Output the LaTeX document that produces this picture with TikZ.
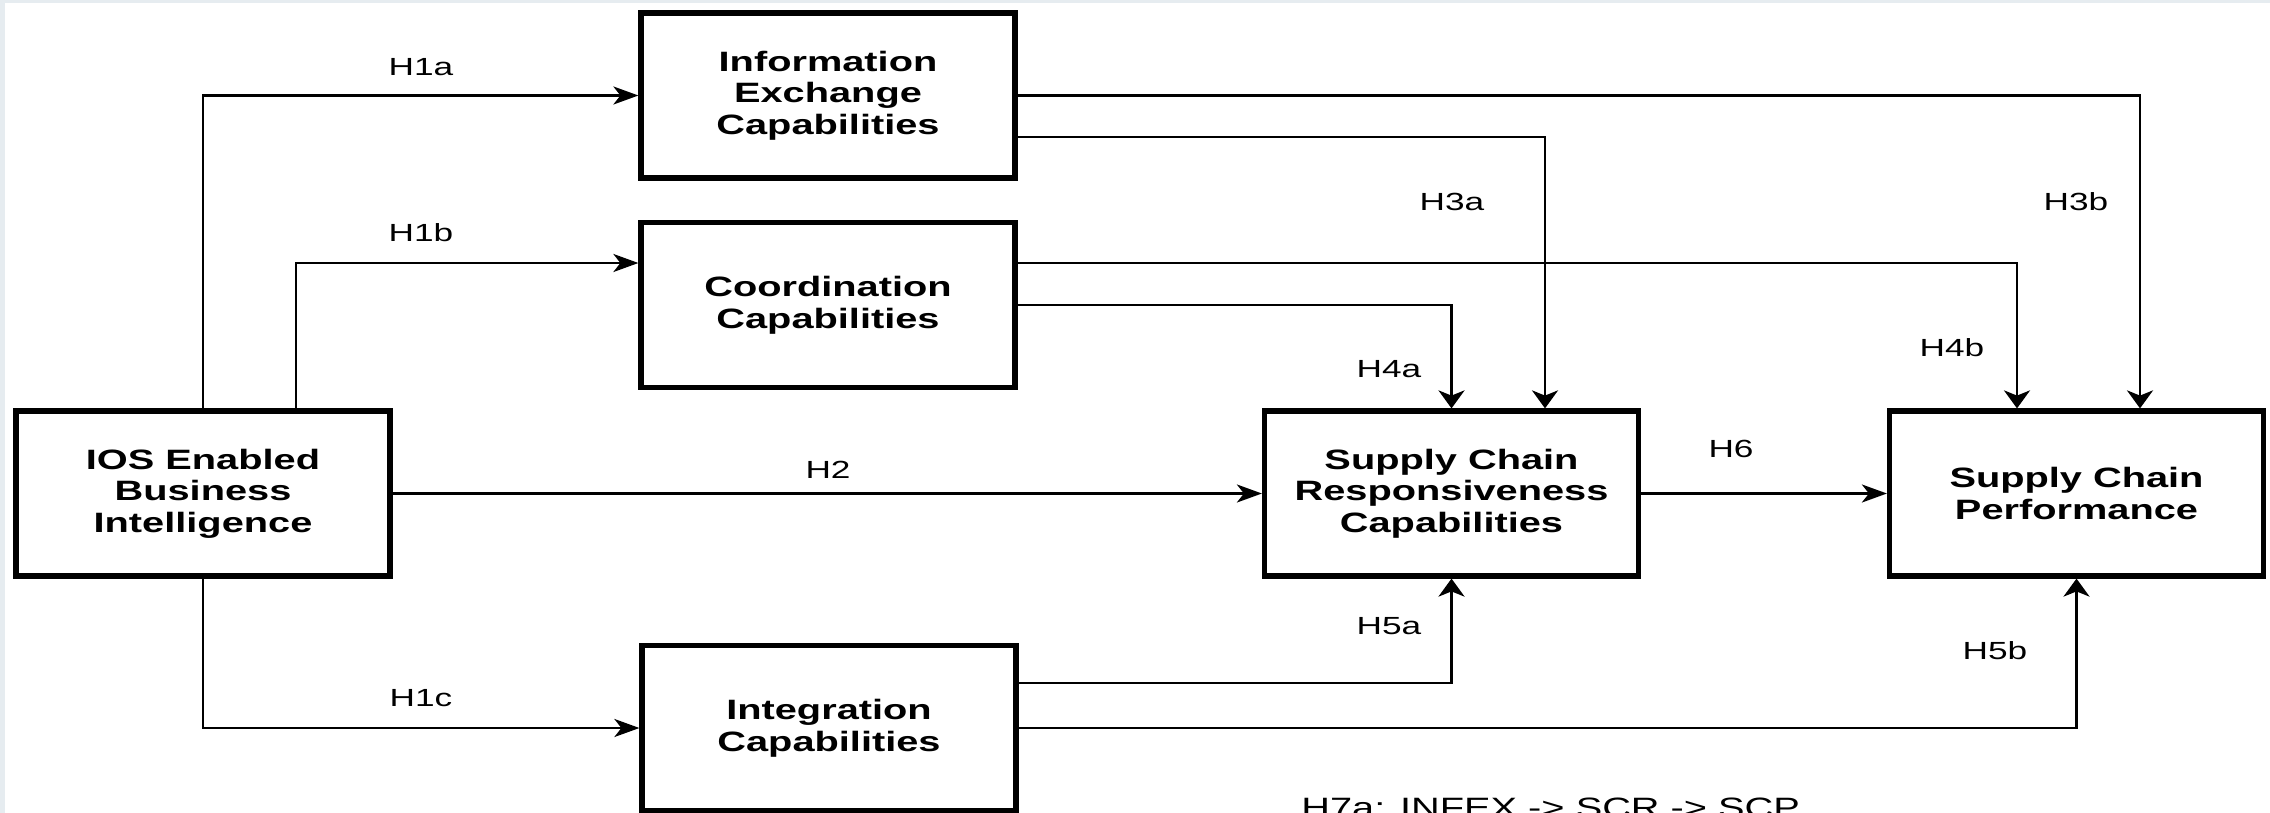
\documentclass[tikz,border=0pt]{standalone}
\usepackage{fontspec}
\setmainfont{Liberation Sans}[FakeStretch=1.42]
\usetikzlibrary{arrows.meta}
\definecolor{frame}{HTML}{E6ECF0}
\tikzset{
  box/.style={draw=black, line width=2.6pt, rectangle, minimum width=187pt, minimum height=82.5pt,
    align=center, inner sep=0pt, font=\bfseries\fontsize{14}{15.8}\selectfont},
  lbl/.style={inner sep=0pt, font=\fontsize{12.4}{15}\selectfont},
  conn/.style={draw=black, line width=1.3pt},
  harr/.style={-{Stealth[length=12.5pt,width=9pt,inset=3.5pt]}},
  varr/.style={-{Stealth[length=9pt,width=13pt,inset=2.6pt]}}
}
\begin{document}
\begin{tikzpicture}[x=0.5pt,y=-0.5pt]
\useasboundingbox (0,0) rectangle (2270,813);
\clip (0,0) rectangle (2270,813);
\fill[frame] (0,0) rectangle (2270,813);
\fill[white] (5,3) rectangle (2270,813);
% boxes
\node[box] (info)  at (828,95.5)   {Information\\Exchange\\Capabilities};
\node[box] (coord) at (828,305)    {Coordination\\Capabilities};
\node[box] (ios)   at (203,493.5)  {IOS Enabled\\Business\\Intelligence};
\node[box] (scr)   at (1451.5,493.5) {Supply Chain\\Responsiveness\\Capabilities};
\node[box] (scp)   at (2076.5,493.5) {Supply Chain\\Performance};
\node[box] (integ) at (829,728)    {Integration\\Capabilities};
% helper coordinates
\coordinate (p1b) at (296,263);
\coordinate (p3a) at (1545,137);
\coordinate (p3b) at (2140,96);
\coordinate (p4b) at (2017,263);
\coordinate (p5a) at (1451,683);
% connectors
\draw[conn,harr] (ios.north) |- (info.west);
\draw[conn,harr] (ios.north -| p1b) |- (coord.west |- p1b);
\draw[conn,harr] (ios.south) |- (integ.west);
\draw[conn,harr] (ios.east) -- (scr.west);
\draw[conn,harr] (scr.east) -- (scp.west);
\draw[conn,varr] (info.east |- p3a) -| (scr.north -| p3a);
\draw[conn,varr] (info.east) -| (scp.north -| p3b);
\draw[conn,varr] (coord.east |- p4b) -| (scp.north -| p4b);
\draw[conn,varr] (coord.east) -| (scr.north);
\draw[conn,varr] (integ.east |- p5a) -| (scr.south);
\draw[conn,varr] (integ.east) -| (scp.south);
% labels
\node[lbl] (l1a) at (421,67)   {H1a};
\node[lbl] (l1b) at (421,233)  {H1b};
\node[lbl] (l1c) at (421,698)  {H1c};
\node[lbl] (l2)  at (828,470)  {H2};
\node[lbl] (l3a) at (1452,202) {H3a};
\node[lbl] (l3b) at (2076,202) {H3b};
\node[lbl] (l4a) at (1389,369) {H4a};
\node[lbl] (l4b) at (1952,348) {H4b};
\node[lbl] (l5a) at (1389,626) {H5a};
\node[lbl] (l5b) at (1995,651) {H5b};
\node[lbl] (l6)  at (1731,449) {H6};
\node[anchor=base west, inner sep=0pt, font=\fontsize{14}{16}\selectfont] (h7) at (1301,817) {H7a: INFEX -> SCR -> SCP};
\end{tikzpicture}
\end{document}
